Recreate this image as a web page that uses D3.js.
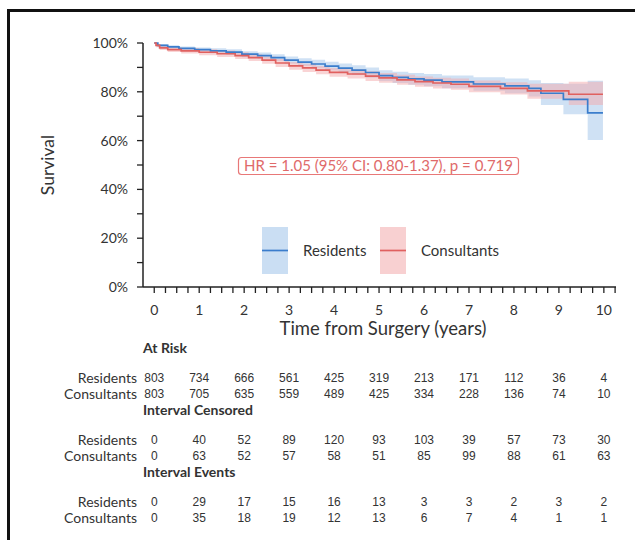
<!DOCTYPE html>
<html>
<head>
<meta charset="utf-8">
<script src="https://cdn.jsdelivr.net/npm/d3@7"></script>
<style>
body { margin: 0; background: #fff; }
svg { display: block; }
.lbl { font-family: Lato, "Open Sans", sans-serif; fill: #333; }
.num { font-family: "Liberation Sans", Arial, sans-serif; fill: #333; font-size: 12px; }
</style>
</head>
<body>
<script>
// Kaplan-Meier steps (time in years, survival in %)
var resT  = [0, 0.08, 0.3, 0.55, 0.9, 1.25, 1.6, 1.95, 2.3, 2.6, 2.9, 3.2, 3.5, 3.8, 4.1, 4.4, 4.7, 5.0, 5.3, 5.65, 6.0, 6.4, 7.1, 7.8, 8.33, 8.6, 9.1, 9.64, 9.98];
var resS  = [100, 99.0, 98.4, 97.8, 97.3, 96.8, 96.3, 95.4, 94.8, 94.0, 93.0, 92.2, 91.4, 90.5, 89.7, 88.9, 87.9, 86.6, 85.9, 85.3, 84.8, 84.1, 83.2, 82.4, 81.4, 79.4, 76.9, 71.4, 71.4];
var resLo = [100, 98.4, 97.7, 97.0, 96.4, 95.8, 95.2, 94.2, 93.5, 92.6, 91.5, 90.6, 89.7, 88.7, 87.8, 86.9, 85.8, 84.4, 83.6, 82.9, 82.3, 81.5, 80.4, 79.4, 78.1, 74.6, 70.8, 60.2, 60.2];
var resHi = [100, 99.6, 99.1, 98.6, 98.2, 97.8, 97.4, 96.6, 96.1, 95.4, 94.5, 93.8, 93.1, 92.3, 91.6, 90.9, 90.0, 88.8, 88.2, 87.7, 87.3, 86.7, 86.0, 85.4, 84.7, 83.6, 83.3, 84.5, 84.5];

var conT  = [0, 0.04, 0.12, 0.3, 0.6, 1.0, 1.4, 1.8, 2.1, 2.4, 2.7, 3.0, 3.3, 3.6, 3.9, 4.3, 4.7, 5.0, 5.4, 5.8, 6.2, 6.6, 7.0, 7.7, 8.3, 9.22, 9.98];
var conS  = [100, 99.0, 98.0, 97.3, 96.8, 96.2, 95.6, 94.8, 94.0, 93.0, 91.8, 90.6, 89.8, 88.9, 88.0, 87.3, 86.4, 85.7, 84.9, 84.2, 83.6, 83.1, 82.2, 81.4, 80.4, 79.0, 79.0];
var conLo = [100, 98.3, 97.1, 96.3, 95.7, 95.0, 94.3, 93.4, 92.6, 91.5, 90.2, 89.0, 88.1, 87.2, 86.2, 85.4, 84.4, 83.7, 82.9, 82.1, 81.4, 80.8, 79.8, 78.9, 77.2, 74.6, 74.6];
var conHi = [100, 99.7, 98.9, 98.3, 97.9, 97.4, 96.9, 96.2, 95.4, 94.5, 93.4, 92.2, 91.5, 90.6, 89.8, 89.2, 88.4, 87.7, 87.0, 86.3, 85.8, 85.4, 84.6, 83.9, 83.3, 84.1, 84.1];

var groups = ["Residents", "Consultants"];
var colors = ["#3b7dcc", "#e0605f"];
var bandColors = ["#9fc3ea", "#f3a9ac"];

var xTicks = [0, 1, 2, 3, 4, 5, 6, 7, 8, 9, 10];
var yTicks = [0, 20, 40, 60, 80, 100];

var atRiskRes = [803, 734, 666, 561, 425, 319, 213, 171, 112, 36, 4];
var atRiskCon = [803, 705, 635, 559, 489, 425, 334, 228, 136, 74, 10];
var censRes   = [0, 40, 52, 89, 120, 93, 103, 39, 57, 73, 30];
var censCon   = [0, 63, 52, 57, 58, 51, 85, 99, 88, 61, 63];
var eventsRes = [0, 29, 17, 15, 16, 13, 3, 3, 2, 3, 2];
var eventsCon = [0, 35, 18, 19, 12, 13, 6, 7, 4, 1, 1];

var hrText = "HR = 1.05 (95% CI: 0.80-1.37), p = 0.719";

var W = 635, H = 540;
var svg = d3.select("body").append("svg").attr("width", W).attr("height", H);

// frame
svg.append("path")
    .attr("d", "M8.5," + H + "V10.5H" + W)
    .attr("fill", "none").attr("stroke", "#111").attr("stroke-width", 3);

var x = d3.scaleLinear().domain([-0.25, 10.27]).range([143, 616]);
var y = d3.scaleLinear().domain([0, 100]).range([287, 43]);

function pts(T, S, L, U) {
    return T.map((t, i) => ({t: t, s: S[i], lo: L[i], hi: U[i]}));
}
var series = [pts(resT, resS, resLo, resHi), pts(conT, conS, conLo, conHi)];

var area = d3.area().curve(d3.curveStepAfter)
    .x(d => x(d.t)).y0(d => y(d.lo)).y1(d => y(d.hi));
var line = d3.line().curve(d3.curveStepAfter)
    .x(d => x(d.t)).y(d => y(d.s));

series.forEach((s, i) => {
    svg.append("path").attr("d", area(s))
        .attr("fill", bandColors[i]).attr("fill-opacity", 0.5);
});
series.forEach((s, i) => {
    svg.append("path").attr("d", line(s))
        .attr("fill", "none").attr("stroke", colors[i]).attr("stroke-width", 1.7);
});

// axes
svg.append("line").attr("x1", 143).attr("x2", 143).attr("y1", y(100)).attr("y2", y(0))
    .attr("stroke", "#222").attr("stroke-width", 1.5);
svg.append("line").attr("x1", 143).attr("x2", 616).attr("y1", 287).attr("y2", 287)
    .attr("stroke", "#222").attr("stroke-width", 1.5);

svg.append("g").selectAll("line").data(d3.range(0, 101, 10)).enter().append("line")
    .attr("x1", 137).attr("x2", 143).attr("y1", d => y(d)).attr("y2", d => y(d))
    .attr("stroke", "#222").attr("stroke-width", 1.3);
svg.append("g").selectAll("text").data(yTicks).enter().append("text")
    .attr("class", "lbl").attr("x", 128).attr("y", d => y(d)).attr("dy", "0.35em")
    .attr("text-anchor", "end").style("font-size", "14px")
    .text(d => d + "%");

svg.append("g").selectAll("line").data(d3.range(0, 42).map(d => d / 4)).enter().append("line")
    .attr("x1", d => x(d)).attr("x2", d => x(d)).attr("y1", 287).attr("y2", 293)
    .attr("stroke", "#222").attr("stroke-width", 1.3);
svg.append("g").selectAll("text").data(xTicks).enter().append("text")
    .attr("class", "lbl").attr("x", d => x(d)).attr("y", 310).attr("dy", "0.35em")
    .attr("text-anchor", "middle").style("font-size", "14px")
    .text(d => d);

svg.append("text").attr("class", "lbl")
    .attr("x", x(5) + 4).attr("y", 329).attr("dy", "0.35em").attr("text-anchor", "middle")
    .style("font-size", "18.5px").text("Time from Surgery (years)");
svg.append("text").attr("class", "lbl")
    .attr("transform", "translate(48,165) rotate(-90)").attr("dy", "0.35em")
    .attr("text-anchor", "middle").style("font-size", "17.5px").text("Survival");

// hazard ratio box
var hr = svg.append("g");
hr.append("rect").attr("x", 238.5).attr("y", 157.5).attr("width", 280).attr("height", 17)
    .attr("rx", 3).attr("fill", "#fff").attr("stroke", "#e87878").attr("stroke-width", 1.2);
hr.append("text").attr("x", 378.5).attr("y", 166).attr("dy", "0.35em")
    .attr("text-anchor", "middle").style("font-family", "Lato, sans-serif")
    .style("font-size", "15px").attr("fill", "#e06a6a").text(hrText);

// legend
var legX = [262, 380];
groups.forEach((g, i) => {
    svg.append("rect").attr("x", legX[i]).attr("y", 227).attr("width", 26).attr("height", 47)
        .attr("fill", bandColors[i]).attr("fill-opacity", 0.55);
    svg.append("line").attr("x1", legX[i]).attr("x2", legX[i] + 26).attr("y1", 250.5).attr("y2", 250.5)
        .attr("stroke", colors[i]).attr("stroke-width", 1.7);
    svg.append("text").attr("class", "lbl").attr("x", legX[i] + 41).attr("y", 251).attr("dy", "0.35em")
        .style("font-size", "15px").text(g);
});

// risk table
var sections = [
    {title: "At Risk", y: 348, rows: [atRiskRes, atRiskCon]},
    {title: "Interval Censored", y: 410, rows: [censRes, censCon]},
    {title: "Interval Events", y: 472, rows: [eventsRes, eventsCon]}
];
sections.forEach(sec => {
    svg.append("text").attr("class", "lbl").attr("x", 143).attr("y", sec.y).attr("dy", "0.35em")
        .style("font-size", "14px").style("font-weight", "bold").text(sec.title);
    sec.rows.forEach((row, r) => {
        var ry = sec.y + 30 + r * 16;
        svg.append("text").attr("class", "lbl").attr("x", 137).attr("y", ry).attr("dy", "0.35em")
            .attr("text-anchor", "end").style("font-size", "14px").text(groups[r]);
        svg.append("g").selectAll("text").data(row).enter().append("text")
            .attr("class", "num").attr("x", (d, i) => x(xTicks[i])).attr("y", ry).attr("dy", "0.35em")
            .attr("text-anchor", "middle").text(d => d);
    });
});
</script>
</body>
</html>
